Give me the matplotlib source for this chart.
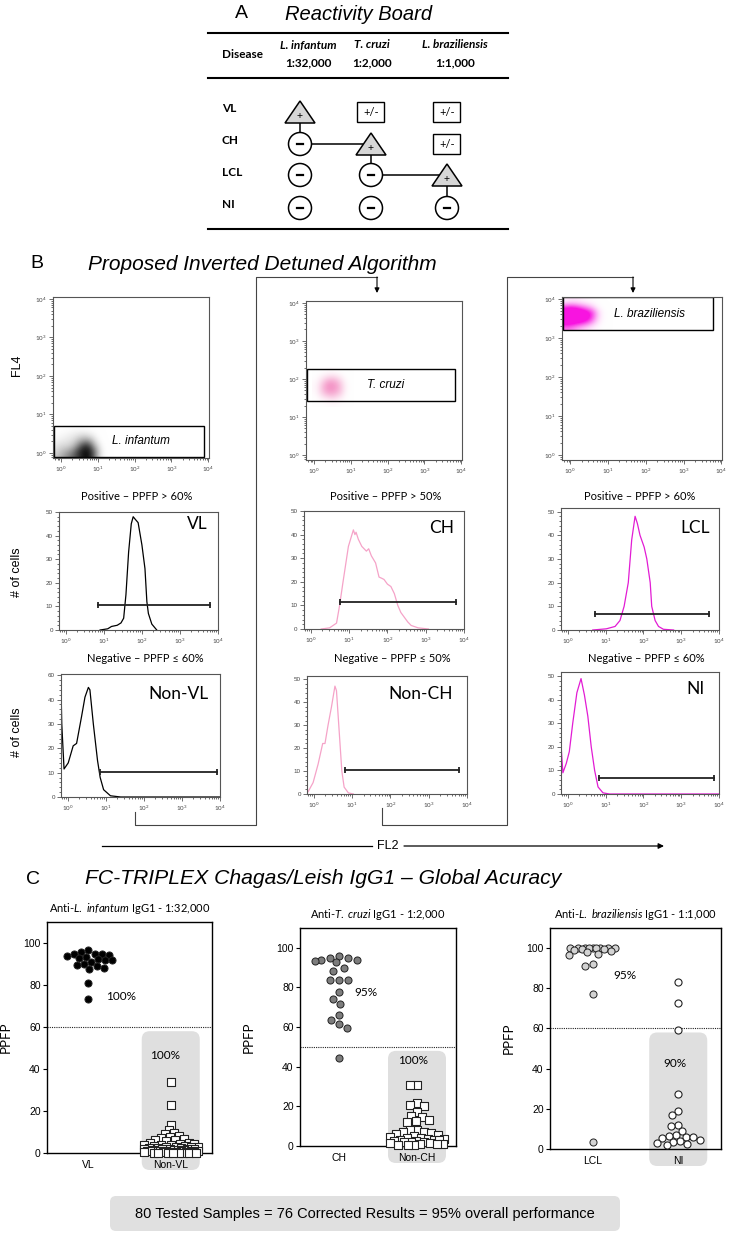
import numpy as np
import matplotlib
matplotlib.use('Agg')
import matplotlib.pyplot as plt
from matplotlib.patches import Rectangle, Circle, Polygon, FancyBboxPatch
from matplotlib.colors import LinearSegmentedColormap

W, H = 729, 1237
plt.rcParams['font.family'] = ['Liberation Sans', 'DejaVu Sans']
plt.rcParams['mathtext.fontset'] = 'custom'
plt.rcParams['mathtext.rm'] = 'Lato'
plt.rcParams['mathtext.it'] = 'Lato:italic'
plt.rcParams['mathtext.bf'] = 'Lato:bold'
CAL = ['Lato', 'DejaVu Sans']

# ---------------- A: reactivity board
diseases = ['VL', 'CH', 'LCL', 'NI']
antigens = ['L. infantum', 'T. cruzi', 'L. braziliensis']
dilutions = ['1:32,000', '1:2,000', '1:1,000']
board = [['+', '+/-', '+/-'],
         ['-', '+', '+/-'],
         ['-', '-', '+'],
         ['-', '-', '-']]

# ---------------- B: flow cytometry (log10 FL2 / FL4)
# event density in the dot plots, rows = FL4 low -> high
inf_density = [[0.5, 0.6, 0.7, 0.8, 0.9, 1.0, 1.0, 0.8, 0.4, 0.1, 0.0],
               [0.4, 0.5, 0.6, 0.7, 0.9, 1.0, 1.0, 0.8, 0.4, 0.1, 0.0],
               [0.3, 0.4, 0.4, 0.5, 0.7, 0.9, 0.9, 0.6, 0.3, 0.05, 0.0],
               [0.2, 0.25, 0.3, 0.35, 0.5, 0.6, 0.6, 0.4, 0.15, 0.0, 0.0],
               [0.1, 0.15, 0.2, 0.25, 0.3, 0.35, 0.3, 0.2, 0.05, 0.0, 0.0],
               [0.02, 0.05, 0.08, 0.1, 0.12, 0.1, 0.08, 0.05, 0.0, 0.0, 0.0]]
inf_range = [(-0.15, 1.35), (-0.1, 0.65)]
cru_density = [[0.0, 0.05, 0.1, 0.15, 0.2, 0.15, 0.1, 0.05, 0.0],
               [0.1, 0.3, 0.45, 0.55, 0.6, 0.5, 0.35, 0.15, 0.03],
               [0.2, 0.5, 0.75, 0.9, 0.9, 0.8, 0.6, 0.25, 0.05],
               [0.25, 0.55, 0.85, 1.0, 1.0, 0.9, 0.65, 0.3, 0.08],
               [0.2, 0.45, 0.7, 0.9, 0.9, 0.8, 0.55, 0.25, 0.05],
               [0.08, 0.25, 0.4, 0.5, 0.55, 0.45, 0.3, 0.1, 0.02],
               [0.0, 0.05, 0.1, 0.15, 0.15, 0.1, 0.05, 0.02, 0.0]]
cru_range = [(0.0, 1.0), (1.35, 2.25)]
bra_density = [[0.6, 0.6, 0.5, 0.4, 0.3, 0.2, 0.1, 0.03, 0.0],
               [0.9, 0.9, 0.85, 0.8, 0.7, 0.5, 0.25, 0.08, 0.02],
               [1.0, 1.0, 1.0, 0.95, 0.9, 0.7, 0.35, 0.1, 0.03],
               [0.95, 1.0, 1.0, 0.95, 0.85, 0.7, 0.35, 0.1, 0.02],
               [0.7, 0.75, 0.7, 0.6, 0.5, 0.35, 0.15, 0.05, 0.0],
               [0.2, 0.25, 0.25, 0.2, 0.15, 0.1, 0.05, 0.0, 0.0]]
bra_range = [(-0.15, 1.05), (3.25, 3.95)]
gates = [(-0.2, 3.88, -0.1, 0.7), (-0.2, 3.84, 1.42, 2.27), (-0.2, 3.78, 3.2, 4.04)]
gate_names = ['L. infantum', 'T. cruzi', 'L. braziliensis']

# histograms: log10(FL2) vs # of cells
vl_x = [0.9, 1.1, 1.2, 1.35, 1.45, 1.52, 1.58, 1.65, 1.72, 1.77, 1.82, 1.9, 2.0, 2.08, 2.13, 2.17, 2.26, 2.39]
vl_y = [0, 0.5, 1.5, 2, 3, 5, 15, 33, 45, 48, 47, 45.5, 36, 26, 12, 7, 2.5, 0]
ch_x = [0.27, 0.49, 0.67, 0.75, 0.84, 0.98, 1.11, 1.15, 1.18, 1.24, 1.33, 1.39, 1.45, 1.51, 1.58, 1.69, 1.78,
        1.85, 1.91, 2.0, 2.09, 2.18, 2.27, 2.35, 2.44, 2.53, 2.62, 2.8, 3.07]
ch_y = [0, 0.5, 2.5, 10, 20, 35, 42, 40, 41, 38, 35, 34, 33, 34, 31, 28, 22, 21.5, 21, 19, 18, 15, 10, 7, 5, 3,
        1.5, 0.5, 0]
lcl_x = [0.66, 1.02, 1.25, 1.38, 1.49, 1.6, 1.69, 1.78, 1.84, 1.91, 2.02, 2.09, 2.18, 2.22, 2.31, 2.4, 2.53, 2.8]
lcl_y = [0, 0.5, 1.5, 4, 10, 20, 38, 48, 45, 40, 35, 30, 20, 10, 4, 1.5, 0.3, 0]
nonvl_x = [-0.18, -0.16, -0.1, 0.01, 0.14, 0.23, 0.36, 0.45, 0.54, 0.58, 0.67, 0.78, 0.85, 0.94, 1.12, 1.39, 4.0]
nonvl_y = [45, 30, 11.5, 14, 21, 22, 33, 41, 45, 44, 30, 15, 8, 3, 0.5, 0, 0]
nonch_x = [-0.15, -0.02, 0.11, 0.23, 0.29, 0.37, 0.46, 0.55, 0.59, 0.65, 0.73, 0.79, 0.9, 1.03]
nonch_y = [1, 5, 13, 22, 22, 30, 38, 47, 45, 30, 10, 3, 0.5, 0]
ni_x = [-0.2, -0.13, -0.04, 0.04, 0.13, 0.24, 0.35, 0.44, 0.53, 0.62, 0.71, 0.8, 0.93, 1.1, 4.0]
ni_y = [26, 9, 13, 18, 30, 43, 49, 42, 33, 20, 10, 3, 0.5, 0, 0]
# positivity marker (from, to, height)
pos_markers = [(0.85, 3.8, 10.5), (0.75, 3.79, 11.3), (0.71, 3.73, 6.8)]
neg_markers = [(0.85, 3.92, 10.2), (0.81, 3.8, 10.4), (0.82, 3.87, 6.6)]
pos_labels = ['VL', 'CH', 'LCL']
neg_labels = ['Non-VL', 'Non-CH', 'NI']
cutoffs = [60, 50, 60]

# ---------------- C: PPFP per group
vl_ppfp = [96.5, 95.5, 95, 95, 94.8, 94.5, 94, 93.5, 93, 92.6, 92, 91.8, 91, 90.2, 89.5, 88.9, 88, 87.7, 81, 73.5]
nonvl_ppfp = [34, 23, 13.5, 11, 9.5, 9, 8, 7.5, 7, 6.5, 6, 6, 5.5, 5, 5, 4.5, 4.5, 4, 4, 4, 3.5, 3.5, 3, 3, 3, 3,
              2.5, 2.5, 2.5, 2, 2, 2, 2, 2, 1.5, 1.5, 1.5, 1.5, 1, 1, 1, 1, 1, 1, 0.8, 0.8, 0.5, 0.5, 0.5, 0.5,
              0.3, 0.3, 0.2, 0.2, 0.1, 0.1, 0, 0, 0, 0]
ch_ppfp = [96, 95, 94.8, 94, 93.8, 93.5, 92.6, 89.8, 88.4, 83.9, 83.7, 83.7, 77.5, 74.2, 71.6, 66.3, 63.8, 61.6,
           59.4, 44.3]
nonch_ppfp = [31, 31, 21.5, 20.5, 20, 17, 15, 14.5, 13, 12.5, 12, 8, 8, 7, 7, 6.5, 6, 5.5, 5, 4.5, 4, 4, 3.5,
              3.5, 3, 3, 3, 2.5, 2.5, 2, 2, 2, 1.5, 1.5, 1, 1, 1, 0.5, 0.5, 0.5]
lcl_ppfp = [100, 100, 100, 100, 100, 100, 100, 100, 100, 99.5, 99.5, 99, 98.5, 98, 97, 96.5, 92, 91, 77, 3.5]
ni_ppfp = [83, 72.5, 59, 27.5, 19, 17, 12, 11.5, 9, 7, 6.5, 6, 6, 5.5, 4.5, 4, 3.5, 3, 2.5, 2]
acc_pos = ['100%', '95%', '95%']
acc_neg = ['100%', '100%', '90%']
summary = '80 Tested Samples = 76 Corrected Results = 95% overall performance'


fig = plt.figure(figsize=(W / 100, H / 100), dpi=100)


def box(x0, y0, x1, y1):
    return [x0 / W, 1 - y1 / H, (x1 - x0) / W, (y1 - y0) / H]


bg = fig.add_axes([0, 0, 1, 1])
bg.set_xlim(0, W)
bg.set_ylim(H, 0)
bg.axis('off')

# ================= panel A
bg.text(241, 14, 'A', fontsize=14, ha='center', va='center')
bg.text(285, 14, 'Reactivity Board', fontsize=14.5, style='italic', ha='left', va='center')
for yy in (33, 78, 229):
    bg.plot([208, 508], [yy, yy], color='black', lw=1.5)
bg.text(222, 54, 'Disease', family=CAL, weight='bold', fontsize=8.5, va='center')
head_x = [308, 372, 455]
for hx, ag, dl in zip(head_x, antigens, dilutions):
    bg.text(hx, 45, ag, family=CAL, weight='bold', style='italic', fontsize=8.5, ha='center', va='center')
    bg.text(hx, 63, dl, family=CAL, weight='bold', fontsize=8.5, ha='center', va='center')

col_x = [300, 371, 447]
row_y = [112, 144, 175, 208]
for r, dz in enumerate(diseases):
    bg.text(222, row_y[r] - 3, dz, family=CAL, weight='bold', fontsize=8.5, va='center')
    for c, mark in enumerate(board[r]):
        cx, cy = col_x[c], row_y[r]
        if mark == '+':
            bg.add_patch(Polygon([(cx - 15, cy + 11), (cx + 15, cy + 11), (cx, cy - 11)],
                                 closed=True, fc='#d6d6d6', ec='black', lw=1.1, zorder=3))
            bg.text(cx, cy + 4, '+', fontsize=7.5, ha='center', va='center', zorder=4)
            if c > 0:
                bg.plot([col_x[c - 1] + 11.5, cx - 7.5], [cy, cy], color='black', lw=1.1, zorder=2)
            if r + 1 < len(diseases):
                bg.plot([cx, cx], [cy + 11, row_y[r + 1] - 11.5], color='black', lw=1.1, zorder=2)
        elif mark == '-':
            bg.add_patch(Circle((cx, cy), 11.5, fc='white', ec='black', lw=1.1, zorder=3))
            bg.plot([cx - 3, cx + 3], [cy, cy], color='black', lw=1.6, zorder=4)
        else:
            bg.add_patch(Rectangle((cx - 13.5, cy - 10), 27, 20, fc='white', ec='black', lw=1.0, zorder=3))
            bg.text(cx, cy, '+/-', fontsize=8, family=CAL, ha='center', va='center', zorder=4)

# ================= panel B
bg.text(37, 264, 'B', fontsize=14, ha='center', va='center')
bg.text(88, 265, 'Proposed Inverted Detuned Algorithm', fontsize=15, style='italic', ha='left', va='center')
bg.text(17, 365, 'FL4', fontsize=9, rotation=90, ha='center', va='center')
bg.text(17, 572, '# of cells', fontsize=9, rotation=90, ha='center', va='center')
bg.text(17, 732, '# of cells', fontsize=9, rotation=90, ha='center', va='center')

minor_log = [np.log10(k) - 1 for k in (7, 8, 9)] + [d + np.log10(k) for d in range(4) for k in range(2, 10)]


def flow_style(ax, xl):
    for s in ax.spines.values():
        s.set_color('#555555')
        s.set_linewidth(0.8)
    ax.set_xlim(*xl)
    ax.set_xticks(range(5))
    ax.set_xticklabels(['$10^{%d}$' % i for i in range(5)])
    ax.set_xticks([m for m in minor_log if m > xl[0]], minor=True)
    ax.tick_params(which='both', direction='out', colors='#555555', labelcolor='#444444',
                   labelsize=4.5, width=0.6, pad=1.5)
    ax.tick_params(which='major', length=3)
    ax.tick_params(which='minor', length=1.5)


scatter_boxes = [(53, 297, 209, 458), (306, 301, 462, 460), (562, 297, 722, 460)]
clouds = [(inf_density, inf_range, '#111111', 1.0), (cru_density, cru_range, '#f490c4', 1.0),
          (bra_density, bra_range, '#f814e0', 0.8)]
gate_text_x = [1.37, 1.45, 1.15]
for i in range(3):
    ax = fig.add_axes(box(*scatter_boxes[i]))
    dens, rng, col, top = clouds[i]
    dens = np.array(dens)
    ny, nx = dens.shape
    dx = (rng[0][1] - rng[0][0]) / (nx - 1)
    dy = (rng[1][1] - rng[1][0]) / (ny - 1)
    cmap = LinearSegmentedColormap.from_list('cl%d' % i, [(1, 1, 1, 0), col])
    ax.imshow(dens, cmap=cmap, vmin=0, vmax=top, origin='lower', aspect='auto', interpolation='bicubic',
              extent=(rng[0][0] - dx / 2, rng[0][1] + dx / 2, rng[1][0] - dy / 2, rng[1][1] + dy / 2))
    g = gates[i]
    ax.add_patch(Rectangle((g[0], g[2]), g[1] - g[0], g[3] - g[2], fill=False, ec='black', lw=1.0))
    ax.text(gate_text_x[i], (g[2] + g[3]) / 2, gate_names[i], style='italic', fontsize=8.5,
            ha='left', va='center')
    flow_style(ax, (-0.22, 4.02))
    ax.set_ylim(-0.13, 4.05)
    ax.set_yticks(range(5))
    ax.set_yticklabels(['$10^{%d}$' % i for i in range(5)])
    ax.set_yticks([m for m in minor_log if m > -0.13], minor=True)

hist_pos_boxes = [(59, 512, 218, 630), (304, 511, 464, 629), (561, 508, 719, 630)]
hist_neg_boxes = [(61, 674, 220, 797), (307, 676, 467, 794), (561, 672, 719, 794)]
pos_curves = [(vl_x, vl_y), (ch_x, ch_y), (lcl_x, lcl_y)]
neg_curves = [(nonvl_x, nonvl_y), (nonch_x, nonch_y), (ni_x, ni_y)]
curve_colors = ['black', '#f5a3c8', '#e21cd4']
pos_ymax = [50, 50, 51.5]
neg_ymax = [50.5, 51.4, 51.8]
pos_lab_xy = [(0.87, 0.9), (0.86, 0.86), (0.85, 0.84)]
neg_lab_xy = [(0.74, 0.84), (0.71, 0.85), (0.85, 0.86)]
neg_ticklabels = [['0', '10', '20', '30', '40', '60'], None, None]
pos_sub_x = [137, 386, 640]
neg_sub_x = [145, 392, 646]


def hist(bx, curve, col, ymax, marker, label, lxy, tl):
    ax = fig.add_axes(box(*bx))
    ax.plot(curve[0], curve[1], color=col, lw=0.9)
    ax.plot([marker[0], marker[1]], [marker[2], marker[2]], color='#222222', lw=1.3,
            marker='|', markersize=5, mew=1.3)
    ax.text(lxy[0], lxy[1], label, transform=ax.transAxes, family=CAL, fontsize=12.5,
            ha='center', va='center')
    flow_style(ax, (-0.18, 4.0))
    ax.set_ylim(0, ymax)
    ax.set_yticks(range(0, 51, 10))
    if tl:
        ax.set_yticklabels(tl)
    ax.set_yticks(range(0, 51, 2), minor=True)


for i in range(3):
    hist(hist_pos_boxes[i], pos_curves[i], curve_colors[i], pos_ymax[i], pos_markers[i], pos_labels[i],
         pos_lab_xy[i], None)
    hist(hist_neg_boxes[i], neg_curves[i], curve_colors[i], neg_ymax[i], neg_markers[i], neg_labels[i],
         neg_lab_xy[i], neg_ticklabels[i])
    bg.text(pos_sub_x[i], 496, 'Positive \u2013 PPFP > %d%%' % cutoffs[i], family=CAL, fontsize=8,
            ha='center', va='center')
    bg.text(neg_sub_x[i], 659, 'Negative \u2013 PPFP \u2264 %d%%' % cutoffs[i], family=CAL, fontsize=8,
            ha='center', va='center')

# connectors between the algorithm steps
lc = '#444444'
for (x0, yb, xv, xa, ytop) in [(135, 812, 256, 377, 277), (382, 808, 507, 633, 277)]:
    bg.plot([x0, x0, xv, xv, xa], [yb, 825, 825, ytop, ytop], color=lc, lw=0.8)
    bg.annotate('', xy=(xa, 293), xytext=(xa, ytop),
                arrowprops=dict(arrowstyle='-|>', color='black', lw=0.8, mutation_scale=7,
                                shrinkA=0, shrinkB=0))
bg.plot([102, 372], [846, 846], color='black', lw=0.9)
bg.annotate('', xy=(664, 846), xytext=(404, 846),
            arrowprops=dict(arrowstyle='-|>', color='black', lw=0.9, mutation_scale=8, shrinkA=0, shrinkB=0))
bg.text(388, 846, 'FL2', fontsize=9, ha='center', va='center')

# ================= panel C
bg.text(33, 879, 'C', fontsize=14, ha='center', va='center')
bg.text(85, 879, 'FC-TRIPLEX Chagas/Leish IgG1 \u2013 Global Acuracy', fontsize=15.2,
        style='italic', ha='left', va='center')

dot_boxes = [(47, 922, 212, 1153), (300, 928, 456, 1146), (550, 928, 721, 1149)]
titles = [r'Anti-$\mathit{L.\ infantum}$ IgG1 - 1:32,000', r'Anti-$\mathit{T.\ cruzi}$ IgG1 - 1:2,000',
          r'Anti-$\mathit{L.\ braziliensis}$ IgG1 - 1:1,000']
groups = [('VL', 'Non-VL'), ('CH', 'Non-CH'), ('LCL', 'NI')]
pos_vals = [vl_ppfp, ch_ppfp, lcl_ppfp]
neg_vals = [nonvl_ppfp, nonch_ppfp, ni_ppfp]
pos_fc = ['black', '#7d7d7d', '#d3d3d3']
pos_d = [7.0, 9.0, 7.5]
neg_mk = ['s', 's', 'o']
neg_d = [5.5, 7.0, 7.0]
ylab_off = [35, 45, 35]
acc_pos_xy = [(0.22, 74.5, 'left'), (0.2, 77.3, 'left'), (0.38, 86.2, 'center')]
acc_neg_xy = [(0.93, 46.5), (0.95, 43.3), (0.96, 42.4)]


def swarm(vals, w_px, h_px, ymax, d, cap):
    ys = np.asarray(vals, float) * h_px / ymax
    grid = np.arange(-cap, cap + 0.01, 0.5)
    grid = grid[np.argsort(np.abs(grid), kind='stable')]
    px, py = [], []
    out = np.zeros(len(ys))
    for i in np.argsort(-ys, kind='stable'):
        y = ys[i]
        c = 0.0
        if px:
            dist = np.sqrt((grid[:, None] - np.array(px)[None, :]) ** 2
                           + (y - np.array(py)[None, :]) ** 2).min(axis=1)
            ok = np.where(dist >= d)[0]
            c = grid[ok[0]] if len(ok) else grid[np.argmax(dist)]
        px.append(c)
        py.append(y)
        out[i] = c
    return out / (w_px / 2)


for i in range(3):
    x0, y0, x1, y1 = dot_boxes[i]
    wpx, hpx = x1 - x0, y1 - y0
    ax = fig.add_axes(box(*dot_boxes[i]))
    ax.set_facecolor('none')
    ax.set_xlim(-0.5, 1.5)
    ax.set_ylim(0, 110)
    # grey background of the negative group
    thr = cutoffs[i]
    sx = x0 + 0.75 * wpx
    top = y1 - (thr - 2) / 110 * hpx
    bg.add_patch(FancyBboxPatch((sx - 29, top), 58, y1 + 17 - top,
                                boxstyle='round,pad=0,rounding_size=8', fc='#dfdfdf', ec='none'))
    ax.axhline(thr, color='#222222', lw=0.8, ls=(0, (1, 1)))
    xo = swarm(pos_vals[i], wpx, hpx, 110, pos_d[i], 24)
    ax.scatter(0 + xo, pos_vals[i], s=26, marker='o', fc=pos_fc[i], ec='#222222', lw=0.7,
               clip_on=False, zorder=3)
    xo = swarm(neg_vals[i], wpx, hpx, 110, neg_d[i], 27)
    ax.scatter(1 + xo, neg_vals[i], s=26, marker=neg_mk[i], fc='white', ec='#222222', lw=0.8,
               clip_on=False, zorder=3)
    ax.text(acc_pos_xy[i][0], acc_pos_xy[i][1], acc_pos[i], family=CAL, fontsize=8.5,
            ha=acc_pos_xy[i][2], va='center')
    ax.text(acc_neg_xy[i][0], acc_neg_xy[i][1], acc_neg[i], family=CAL, fontsize=8.5,
            ha='center', va='center')
    ax.set_xticks([0, 1])
    ax.set_xticklabels(groups[i])
    ax.set_yticks(range(0, 101, 20))
    ax.tick_params(axis='x', length=0, labelsize=7.5, pad=5)
    ax.tick_params(axis='y', length=3, width=0.8, labelsize=7.5, pad=1.5)
    for s in ax.spines.values():
        s.set_linewidth(1.0)
    ax.set_ylabel('PPFP', family=CAL, fontsize=9.5)
    ax.yaxis.set_label_coords(-ylab_off[i] / wpx, 0.5)
    ax.text(0.5, 1 + 13 / hpx, titles[i], transform=ax.transAxes, family=CAL, fontsize=8,
            ha='center', va='center')

bg.add_patch(FancyBboxPatch((110, 1196), 510, 35, boxstyle='round,pad=0,rounding_size=6',
                            fc='#e0e0e0', ec='none'))
bg.text(365, 1214, summary, fontsize=10.5, ha='center', va='center')

fig.savefig('out.png', dpi=100)
